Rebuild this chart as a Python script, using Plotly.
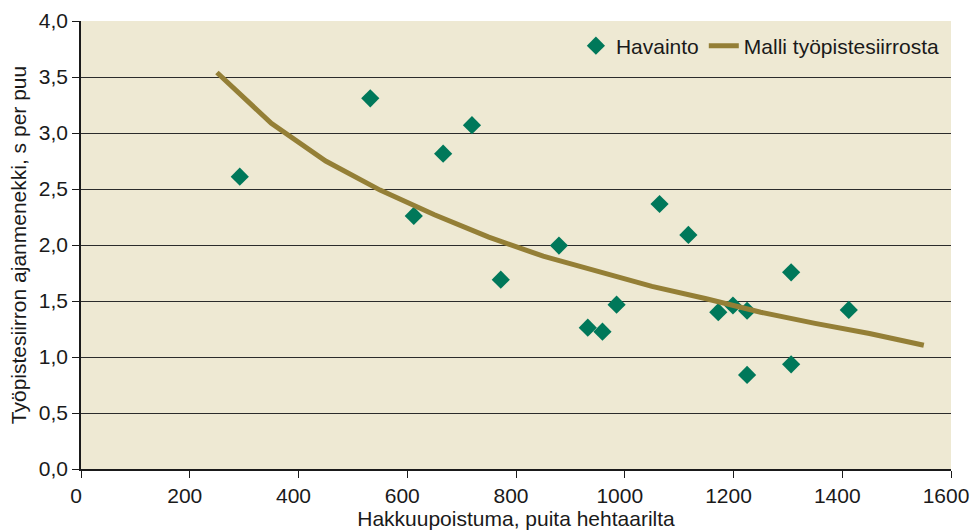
import plotly.graph_objects as go

# Observations
obs_x = [292, 532, 612, 666, 719, 772, 879, 932, 959, 985, 1064, 1117, 1172, 1199, 1225, 1225, 1306, 1306, 1412]
obs_y = [2.61, 3.31, 2.26, 2.815, 3.07, 1.69, 1.995, 1.262, 1.226, 1.467, 2.366, 2.09, 1.40, 1.46, 1.413, 0.84, 1.756, 0.935, 1.42]

# Model curve
model_x = [250, 350, 450, 550, 650, 750, 850, 950, 1050, 1150, 1250, 1350, 1450, 1550]
model_y = [3.54, 3.087, 2.75, 2.49, 2.27, 2.07, 1.90, 1.76, 1.63, 1.52, 1.40, 1.30, 1.21, 1.105]

x_ticks = [0, 200, 400, 600, 800, 1000, 1200, 1400, 1600]
x_tick_labels = ["0", "200", "400", "600", "800", "1000", "1200", "1400", "1600"]
y_ticks = [0.0, 0.5, 1.0, 1.5, 2.0, 2.5, 3.0, 3.5, 4.0]

FONT = "Liberation Sans, Arial, Helvetica, sans-serif"
FS = 21

fig = go.Figure()
fig.add_trace(go.Scatter(
    x=obs_x, y=obs_y, mode="markers", name="Havainto",
    marker=dict(symbol="diamond", size=14, color="#00785A", line=dict(width=0)),
))
fig.add_trace(go.Scatter(
    x=model_x, y=model_y, mode="lines", name="Malli työpistesiirrosta",
    line=dict(color="#947F36", width=5),
))

fig.update_layout(
    width=971, height=532,
    margin=dict(l=81, r=20, t=21, b=63, autoexpand=False),
    paper_bgcolor="white",
    plot_bgcolor="#EEE9D3",
    separators=", ",
    font=dict(family=FONT, size=FS, color="#1a1a1a"),
    showlegend=True,
    legend=dict(orientation="h", x=0.993, xanchor="right", y=0.99, yanchor="top",
                bgcolor="rgba(0,0,0,0)", font=dict(size=FS),
                itemwidth=30, traceorder="normal"),
    xaxis=dict(
        range=[0, 1600], tickvals=x_ticks, ticktext=x_tick_labels,
        ticklabeloverflow="allow", ticklabelshift=-5,
        showgrid=False, zeroline=False, automargin=False,
        showline=True, linecolor="#1a1a1a", linewidth=1.5,
        ticks="outside", ticklen=7, tickcolor="#1a1a1a",
        title=dict(text="Hakkuupoistuma, puita hehtaarilta", standoff=4, font=dict(size=FS)),
        tickfont=dict(size=FS),
    ),
    yaxis=dict(
        range=[0, 4.0], tickvals=y_ticks, tickformat=".1f",
        showgrid=True, gridcolor="#2b2b2b", gridwidth=1,
        zeroline=False, automargin=False,
        showline=True, linecolor="#1a1a1a", linewidth=1.5,
        ticks="outside", ticklen=7, tickcolor="#1a1a1a",
        title=dict(text="Työpistesiirron ajanmenekki, s per puu", standoff=6, font=dict(size=FS)),
        tickfont=dict(size=FS),
    ),
)

fig.write_html(
    "out.html",
    config={"displayModeBar": False},
    post_script="document.body.style.margin='0';document.documentElement.style.overflow='hidden';",
)
